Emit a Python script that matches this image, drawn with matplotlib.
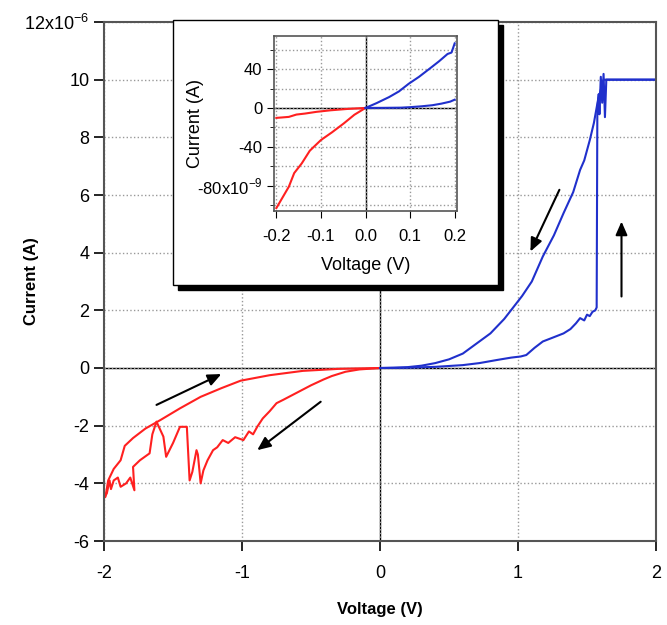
import matplotlib
matplotlib.use('Agg')
import matplotlib.pyplot as plt
from matplotlib.patches import Rectangle
from matplotlib.ticker import MultipleLocator

plt.rcParams['font.family'] = ['Liberation Sans', 'DejaVu Sans']
plt.rcParams['axes.unicode_minus'] = False

# main sweep, current in units of 1e-6 A
blue_fwd_v = [0, 0.2, 0.4, 0.6, 0.72, 0.85, 0.95, 1.02, 1.06, 1.12, 1.18, 1.25, 1.33, 1.38,
              1.42, 1.45, 1.48, 1.50, 1.52, 1.54, 1.56, 1.57, 1.575, 1.585, 1.59, 1.60,
              1.61, 1.62, 1.63, 1.64, 1.66, 2.0]
blue_fwd_i = [0, 0.01, 0.04, 0.1, 0.17, 0.28, 0.36, 0.40, 0.45, 0.7, 0.92, 1.05, 1.2, 1.35,
              1.55, 1.73, 1.65, 1.85, 1.8, 1.95, 2.0, 2.1, 9.0, 9.5, 8.8, 10.1,
              9.2, 10.2, 8.7, 10.0, 10.0, 10.0]
blue_ret_v = [2.0, 1.62, 1.58, 1.55, 1.52, 1.48, 1.45, 1.40, 1.33, 1.26, 1.18, 1.10, 1.03,
              0.97, 0.90, 0.80, 0.72, 0.60, 0.50, 0.40, 0.30, 0.20, 0.10, 0]
blue_ret_i = [10, 10, 9.3, 8.5, 7.9, 7.2, 6.87, 6.1, 5.37, 4.6, 3.87, 3.0, 2.5,
              2.13, 1.7, 1.2, 0.92, 0.5, 0.3, 0.17, 0.08, 0.03, 0.01, 0]

red_fwd_v = [0, -0.15, -0.25, -0.35, -0.41, -0.5, -0.6, -0.7, -0.75, -0.8, -0.85, -0.89,
             -0.92, -0.95, -0.99, -1.05, -1.1, -1.14, -1.18, -1.21, -1.25, -1.28, -1.30,
             -1.32, -1.33, -1.36, -1.38, -1.40, -1.45, -1.50, -1.55, -1.57, -1.62, -1.65,
             -1.67, -1.74, -1.79, -1.78, -1.81, -1.84, -1.88, -1.90, -1.93, -1.95, -1.96,
             -1.98, -2.0]
red_fwd_i = [0, -0.05, -0.13, -0.28, -0.4, -0.6, -0.85, -1.1, -1.22, -1.5, -1.75, -2.04,
             -2.3, -2.2, -2.5, -2.4, -2.6, -2.5, -2.75, -2.85, -3.2, -3.55, -4.0,
             -3.0, -2.85, -3.6, -3.9, -2.04, -2.04, -2.6, -3.08, -2.38, -1.86, -2.3,
             -2.96, -3.2, -3.43, -4.24, -3.8, -4.0, -4.12, -3.8, -3.9, -4.2, -3.9,
             -4.35, -4.5]
red_ret_v = [-2.0, -1.99, -1.97, -1.93, -1.88, -1.85, -1.79, -1.70, -1.59, -1.45, -1.30,
             -1.15, -1.01, -0.8, -0.56, -0.3, 0]
red_ret_i = [-4.5, -4.47, -3.9, -3.5, -3.2, -2.7, -2.43, -2.1, -1.8, -1.4, -1.0,
             -0.7, -0.44, -0.25, -0.1, -0.03, 0]

# sweep direction arrows: (tail_v, tail_i, head_v, head_i)
arrows = [(-1.62, -1.28, -1.15, -0.21),
          (-0.43, -1.17, -0.89, -2.85),
          (1.30, 6.18, 1.09, 4.04),
          (1.75, 2.48, 1.75, 5.08)]

main_yticks = [-6, -4, -2, 0, 2, 4, 6, 8, 10, 12]
main_ylabels = ['-6', '-4', '-2', '0', '2', '4', '6', '8', '10', '12x10$^{\\mathregular{-6}}$']

# inset, current in units of 1e-9 A
in_red1_v = [0, -0.025, -0.049, -0.075, -0.1, -0.125, -0.143, -0.16, -0.172, -0.186, -0.2]
in_red1_i = [0, -7, -16, -25, -33, -44, -57, -67, -81, -92, -103]
in_red2_v = [0, -0.04, -0.078, -0.11, -0.136, -0.155, -0.172, -0.188, -0.2]
in_red2_i = [0, -1, -2.4, -4, -5.8, -6.8, -9.2, -9.8, -10.2]
in_blue1_v = [0, 0.025, 0.053, 0.075, 0.097, 0.12, 0.148, 0.165, 0.184, 0.193, 0.2]
in_blue1_i = [0, 5, 11.2, 17, 24.9, 32, 41.9, 48, 55.5, 57, 66.4]
in_blue2_v = [0, 0.04, 0.08, 0.1, 0.126, 0.15, 0.17, 0.19, 0.2]
in_blue2_i = [0, 0.1, 0.3, 0.8, 1.7, 2.8, 4.4, 6.5, 8.5]

inset_yticks = [-80, -40, 0, 40]
inset_ylabels = ['-80x10$^{\\mathregular{-9}}$', '-40', '0', '40']
inset_xticks = [-0.2, -0.1, 0.0, 0.1, 0.2]
inset_xlabels = ['-0.2', '-0.1', '0.0', '0.1', '0.2']

RED = '#ff2020'
BLUE = '#2030cc'

fig = plt.figure(figsize=(6.67, 6.25), dpi=100)
ax = fig.add_axes([0.156, 0.1344, 0.8275, 0.8304])

ax.plot(red_fwd_v, red_fwd_i, color=RED, lw=1.5)
ax.plot(red_ret_v, red_ret_i, color=RED, lw=1.5)
ax.plot(blue_fwd_v, blue_fwd_i, color=BLUE, lw=1.5)
ax.plot(blue_ret_v, blue_ret_i, color=BLUE, lw=1.5)
ax.axhline(0, color='black', lw=1, zorder=1)
ax.axvline(0, color='black', lw=1, zorder=1)

for tv, ti, hv, hi in arrows:
    ax.annotate('', xy=(hv, hi), xytext=(tv, ti),
                arrowprops=dict(arrowstyle='-|>,head_length=0.8,head_width=0.35',
                                color='black', lw=1.5, shrinkA=0, shrinkB=0))

ax.set_xlim(-2, 2)
ax.set_ylim(-6, 12)
ax.set_xticks([-2, -1, 0, 1, 2])
ax.set_yticks(main_yticks)
ax.set_yticklabels(main_ylabels)
ax.tick_params(direction='out', length=7, width=1.2, labelsize=13)
ax.tick_params(axis='x', pad=10)
ax.grid(True, color='#999999', ls=':', lw=1)
for s in ax.spines.values():
    s.set_color('#555555')
    s.set_linewidth(1.5)
ax.set_xlabel('Voltage (V)', fontsize=12, fontweight='bold')
ax.set_ylabel('Current (A)', fontsize=12, fontweight='bold')
ax.xaxis.set_label_coords(0.5, -0.118)
ax.yaxis.set_label_coords(-0.118, 0.5)

# inset frame with drop shadow
bx0, by0, bw, bh = 0.2594, 0.544, 0.4872, 0.424
fig.add_artist(Rectangle((bx0 + 0.008, by0 - 0.008), bw, bh, transform=fig.transFigure,
                         facecolor='black', edgecolor='black', zorder=1))
fig.add_artist(Rectangle((bx0, by0), bw, bh, transform=fig.transFigure,
                         facecolor='white', edgecolor='black', lw=1, zorder=1))

axi = fig.add_axes([0.411, 0.6624, 0.274, 0.28], zorder=2)
axi.plot(in_red1_v, in_red1_i, color=RED, lw=1.5)
axi.plot(in_red2_v, in_red2_i, color=RED, lw=1.5)
axi.plot(in_blue1_v, in_blue1_i, color=BLUE, lw=1.5)
axi.plot(in_blue2_v, in_blue2_i, color=BLUE, lw=1.5)
axi.axhline(0, color='black', lw=1, zorder=1)
axi.axvline(0, color='black', lw=1, zorder=1)
axi.set_xlim(-0.205, 0.205)
axi.set_ylim(-106, 74)
axi.set_xticks(inset_xticks)
axi.set_xticklabels(inset_xlabels)
axi.set_yticks(inset_yticks)
axi.set_yticklabels(inset_ylabels)
axi.yaxis.set_minor_locator(MultipleLocator(20))
axi.tick_params(direction='out', length=5, labelsize=12)
axi.tick_params(axis='x', pad=8)
axi.tick_params(which='minor', direction='out', length=3)
axi.grid(True, which='major', color='#999999', ls=':', lw=1)
axi.grid(True, which='minor', axis='y', color='#999999', ls=':', lw=1)
for s in axi.spines.values():
    s.set_color('#555555')
    s.set_linewidth(1.2)
axi.set_xlabel('Voltage (V)', fontsize=13)
axi.set_ylabel('Current (A)', fontsize=13)
axi.xaxis.set_label_coords(0.5, -0.26)
axi.yaxis.set_label_coords(-0.385, 0.5)

fig.savefig('out.png', dpi=100)
